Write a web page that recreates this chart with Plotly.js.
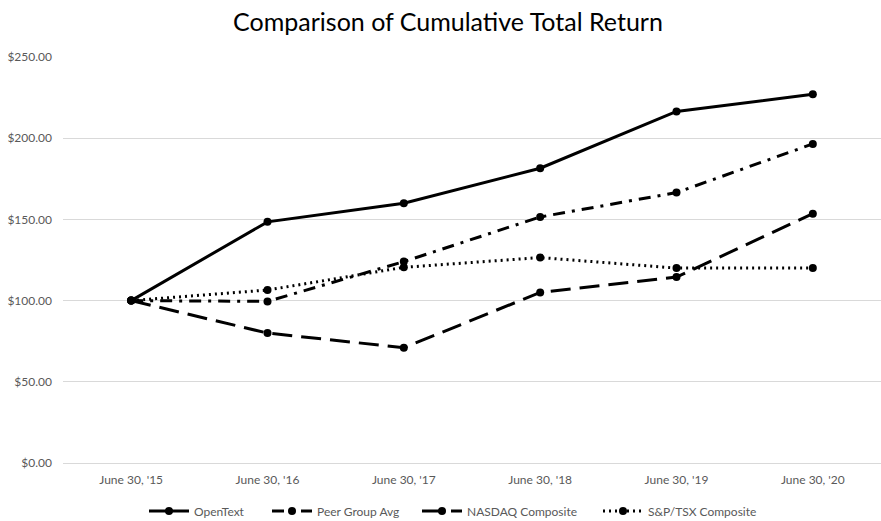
<!DOCTYPE html>
<html><head><meta charset="utf-8">
<script src="https://cdn.plot.ly/plotly-3.0.1.min.js"></script>
<style>body{margin:0;background:#fff}#c{width:881px;height:521px}</style>
</head><body><div id="c"></div>
<script>
const categories = ["June 30, '15","June 30, '16","June 30, '17","June 30, '18","June 30, '19","June 30, '20"];
const openText = [100, 148.5, 160, 181.5, 216.5, 227];
const peerGroup = [100, 99.5, 124, 151.5, 166.5, 196.5];
const nasdaq = [100, 80, 71, 105, 114.5, 153.5];
const spTsx = [100, 106.5, 120.5, 126.5, 120, 120];
const seriesNames = ["OpenText","Peer Group Avg","NASDAQ Composite","S&P/TSX Composite"];
const yTicks = [0,50,100,150,200,250];
const yTickText = ["$0.00","$50.00","$100.00","$150.00","$200.00","$250.00"];

const dashes = ["solid","12px,7px,3px,7px","20px,9px","2px,4px"];
const legendIds = ['legend','legend2','legend3','legend4'];
const legendTextX = [194, 317, 467, 648];
const vals = [openText, peerGroup, nasdaq, spTsx];
const traces = vals.map((v,i)=>({
  type:'scatter', mode:'lines+markers', x:categories, y:v, name:seriesNames[i],
  legend: legendIds[i],
  line:{color:'#000', width:3, dash:dashes[i]},
  marker:{color:'#000', size:8, symbol:'circle'},
  cliponaxis:false
}));
const layout = {
  width:881, height:521,
  margin:{l:63,r:0,t:57,b:58,autoexpand:false},
  paper_bgcolor:'#fff', plot_bgcolor:'#fff',
  title:{text:'Comparison of Cumulative Total Return', xref:'container', x:448/881, xanchor:'center', y:0.957, yanchor:'middle',
    font:{family:'Lato, Carlito, sans-serif', size:25, color:'#000'}},
  font:{family:'Lato, Carlito, sans-serif', size:12, color:'#595959'},
  xaxis:{type:'category', range:[-0.5,5.5], showgrid:false, showline:true, linecolor:'#d9d9d9', linewidth:1,
    ticks:'', zeroline:false, tickfont:{size:12,color:'#595959'}, ticklabelstandoff:6},
  yaxis:{range:[0,250], tickvals:yTicks, ticktext:yTickText, showgrid:true, gridcolor:'#d9d9d9', gridwidth:1,
    zeroline:false, showline:false, ticks:'', tickfont:{size:12,color:'#595959'}, ticklabelstandoff:10},
  showlegend:true
};
legendIds.forEach((id,i)=>{
  layout[id] = {orientation:'h', xref:'container', yref:'container', x:(legendTextX[i]-50)/881, xanchor:'left',
    y:1-511/521, yanchor:'middle', itemwidth:40, font:{size:12,color:'#595959'}, bgcolor:'rgba(0,0,0,0)'};
});
Plotly.newPlot('c', traces, layout, {displayModeBar:false, staticPlot:true});
</script></body></html>
